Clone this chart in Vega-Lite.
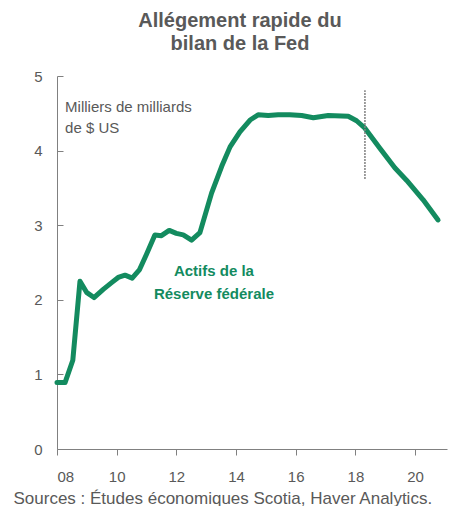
{
  "$schema": "https://vega.github.io/schema/vega-lite/v6.json",
  "width": 390,
  "height": 373,
  "autosize": "none",
  "padding": {"left": 57, "top": 76, "right": 6, "bottom": 57},
  "background": "white",
  "config": {
    "view": {"stroke": null},
    "font": "Liberation Sans"
  },
  "title": {
    "text": ["Allégement rapide du", "bilan de la Fed"],
    "anchor": "middle",
    "frame": "group",
    "dx": -12,
    "fontSize": 20,
    "lineHeight": 23,
    "fontWeight": "bold",
    "color": "#595959",
    "offset": 15
  },
  "datasets": {
    "fed": [
      {"year": 2008.0, "value": 0.89},
      {"year": 2008.27, "value": 0.89},
      {"year": 2008.53, "value": 1.19},
      {"year": 2008.77, "value": 2.25},
      {"year": 2008.99, "value": 2.10},
      {"year": 2009.24, "value": 2.03},
      {"year": 2009.55, "value": 2.14},
      {"year": 2009.83, "value": 2.23},
      {"year": 2010.05, "value": 2.30},
      {"year": 2010.28, "value": 2.33},
      {"year": 2010.52, "value": 2.29},
      {"year": 2010.76, "value": 2.40},
      {"year": 2011.0, "value": 2.61},
      {"year": 2011.28, "value": 2.87},
      {"year": 2011.5, "value": 2.86},
      {"year": 2011.76, "value": 2.93},
      {"year": 2012.0, "value": 2.89},
      {"year": 2012.23, "value": 2.87},
      {"year": 2012.51, "value": 2.80},
      {"year": 2012.79, "value": 2.90},
      {"year": 2013.18, "value": 3.43},
      {"year": 2013.52, "value": 3.79},
      {"year": 2013.8, "value": 4.05},
      {"year": 2014.13, "value": 4.25},
      {"year": 2014.47, "value": 4.41},
      {"year": 2014.74, "value": 4.48},
      {"year": 2015.08, "value": 4.47},
      {"year": 2015.41, "value": 4.48},
      {"year": 2015.8, "value": 4.48},
      {"year": 2016.2, "value": 4.47},
      {"year": 2016.59, "value": 4.44},
      {"year": 2017.09, "value": 4.47},
      {"year": 2017.76, "value": 4.46},
      {"year": 2018.04, "value": 4.40},
      {"year": 2018.32, "value": 4.30},
      {"year": 2018.82, "value": 4.03},
      {"year": 2019.32, "value": 3.77},
      {"year": 2019.72, "value": 3.60},
      {"year": 2020.27, "value": 3.34},
      {"year": 2020.77, "value": 3.07}
    ],
    "marker": [{"year": 2018.32, "y1": 3.62, "y2": 4.81}],
    "unit": [
      {"year": 2008.27, "value": 4.58, "label": "Milliers de milliards"},
      {"year": 2008.27, "value": 4.30, "label": "de $ US"}
    ],
    "series": [
      {"year": 2013.26, "value": 2.39, "label": "Actifs de la"},
      {"year": 2013.26, "value": 2.08, "label": "Réserve fédérale"}
    ]
  },
  "layer": [
    {
      "data": {"name": "fed"},
      "mark": {"type": "line", "color": "#138b5f", "strokeWidth": 5, "strokeCap": "round", "strokeJoin": "round"},
      "encoding": {
        "x": {
          "field": "year",
          "type": "quantitative",
          "scale": {"domain": [2008, 2021.07], "nice": false, "zero": false},
          "axis": {
            "values": [2008, 2010, 2012, 2014, 2016, 2018, 2020],
            "labelExpr": "format(datum.value % 100, '02d')",
            "grid": false,
            "tickSize": 6,
            "labelPadding": 14,
            "labelFontSize": 15,
            "labelColor": "#595959",
            "domainColor": "#808080",
            "tickColor": "#808080",
            "title": "Sources : Études économiques Scotia, Haver Analytics.",
            "titleFontSize": 17,
            "titleFontWeight": "normal",
            "titleColor": "#595959",
            "titleAnchor": "start",
            "titleAlign": "left",
            "titleBaseline": "alphabetic",
            "titleX": -44,
            "titleY": 54
          }
        },
        "y": {
          "field": "value",
          "type": "quantitative",
          "scale": {"domain": [0, 5], "nice": false},
          "axis": {
            "values": [0, 1, 2, 3, 4, 5],
            "format": "d",
            "grid": false,
            "tickSize": -6,
            "labelPadding": 21,
            "labelFontSize": 15,
            "labelColor": "#595959",
            "domainColor": "#808080",
            "tickColor": "#808080",
            "title": null
          }
        }
      }
    },
    {
      "data": {"name": "marker"},
      "mark": {"type": "rule", "color": "#808080", "strokeWidth": 1.5, "strokeDash": [2, 1]},
      "encoding": {
        "x": {"field": "year", "type": "quantitative"},
        "y": {"field": "y1", "type": "quantitative"},
        "y2": {"field": "y2"}
      }
    },
    {
      "data": {"name": "unit"},
      "mark": {"type": "text", "align": "left", "baseline": "middle", "fontSize": 15, "color": "#595959"},
      "encoding": {
        "x": {"field": "year", "type": "quantitative"},
        "y": {"field": "value", "type": "quantitative"},
        "text": {"field": "label"}
      }
    },
    {
      "data": {"name": "series"},
      "mark": {"type": "text", "align": "center", "baseline": "middle", "fontSize": 15, "fontWeight": "bold", "color": "#138b5f"},
      "encoding": {
        "x": {"field": "year", "type": "quantitative"},
        "y": {"field": "value", "type": "quantitative"},
        "text": {"field": "label"}
      }
    }
  ]
}
